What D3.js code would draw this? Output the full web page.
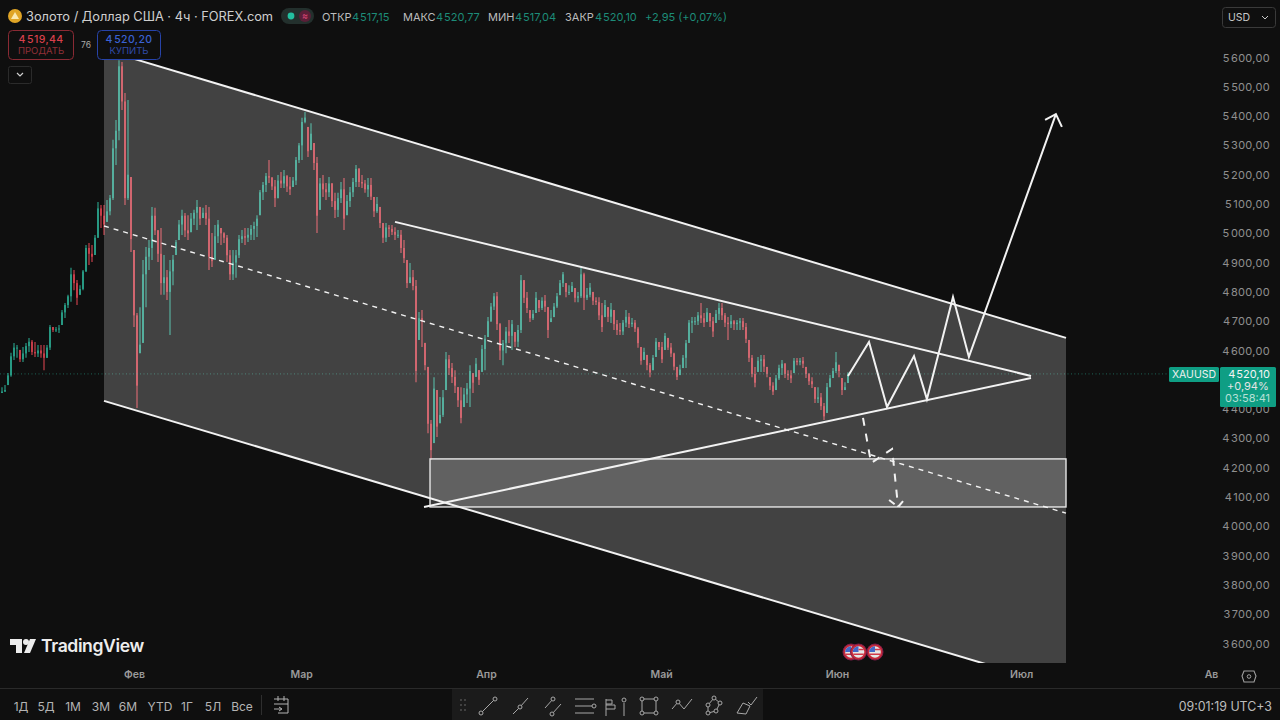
<!DOCTYPE html>
<html>
<head>
<meta charset="utf-8">
<script src="https://cdn.jsdelivr.net/npm/d3@7"></script>
<style>
  html, body { margin: 0; background: #0f0f0f; overflow: hidden; }
  svg { display: block; }
  text { font-family: Inter, "Noto Sans", sans-serif; }
</style>
</head>
<body>
<script>
// candles, one every few bars
const highs = [
  4475,4482,4523,4592,4626,4619,4602,4612,4626,4643,
  4636,4629,4619,4619,4619,4619,4687,4680,4680,4687,
  4738,4762,4790,4882,4875,4841,4823,4875,4960,4967,
  4960,4994,5107,5097,5097,5114,5131,5319,5387,5591,
  5585,5479,5455,5192,4943,4728,4748,4909,4953,4977,
  5090,5087,5011,5018,4926,4875,4909,4926,4977,5045,
  5080,5069,5062,5069,5080,5114,5090,5087,5097,5090,
  5001,5028,5045,5018,5004,4994,4943,4943,4943,4994,
  5011,5018,5018,5028,5039,5062,5148,5175,5206,5250,
  5192,5182,5199,5209,5216,5199,5192,5192,5260,5308,
  5394,5414,5363,5376,5308,5260,5189,5199,5172,5192,
  5172,5138,5138,5175,5189,5131,5158,5189,5233,5223,
  5199,5182,5189,5189,5124,5124,5090,5035,5035,5028,
  5028,5021,5011,5011,4977,4909,4899,4875,4841,4731,
  4738,4626,4544,4363,4509,4465,4441,4465,4595,4585,
  4557,4533,4475,4475,4472,4489,4550,4523,4574,4533,
  4619,4653,4714,4762,4796,4800,4694,4636,4680,4704,
  4704,4663,4687,4858,4841,4800,4738,4738,4800,4772,
  4782,4789,4748,4738,4762,4796,4841,4868,4830,4823,
  4834,4813,4800,4882,4865,4813,4830,4800,4782,4782,
  4762,4772,4748,4762,4738,4704,4694,4704,4738,4728,
  4711,4704,4680,4612,4609,4585,4557,4585,4643,4629,
  4629,4660,4643,4626,4592,4544,4551,4585,4636,4704,
  4714,4714,4731,4762,4728,4745,4728,4714,4738,4762,
  4762,4728,4714,4721,4704,4704,4711,4711,4694,4636,
  4585,4544,4578,4585,4585,4544,4509,4492,4516,4551,
  4568,4557,4533,4533,4574,4574,4574,4578,4544,4523,
  4509,4475,4475,4455,4421,4489,4516,4540,4595,4551,
  4506,4492,4526
];
const lows = [
  4455,4458,4482,4510,4568,4575,4561,4561,4575,4595,
  4585,4578,4578,4575,4533,4575,4602,4663,4663,4660,
  4687,4711,4745,4766,4806,4755,4790,4806,4868,4892,
  4902,4926,4984,5018,4994,5039,5062,5114,5233,5318,
  5421,5097,5114,4936,4680,4404,4591,4626,4748,4875,
  4909,4994,4902,4790,4790,4772,4653,4823,4926,4977,
  4994,4987,4977,5004,5028,5011,5028,5052,5028,4875,
  4885,4909,4967,4960,4967,4902,4841,4841,4848,4916,
  4967,4960,4970,4977,4977,4987,5062,5114,5141,5172,
  5148,5090,5120,5155,5155,5141,5131,5158,5165,5240,
  5250,5376,5260,5284,5216,5001,5080,5124,5114,5124,
  5090,5052,5056,5103,5011,5062,5090,5124,5158,5158,
  5155,5138,5124,5114,5056,5069,5018,4967,4970,4987,
  4994,4977,4984,4933,4899,4813,4830,4806,4492,4636,
  4612,4533,4318,4226,4284,4305,4352,4373,4465,4516,
  4489,4455,4407,4352,4407,4421,4407,4455,4510,4482,
  4527,4533,4646,4697,4738,4670,4568,4550,4591,4626,
  4602,4612,4612,4660,4762,4728,4697,4704,4728,4731,
  4738,4731,4643,4697,4714,4745,4789,4817,4782,4789,
  4800,4765,4765,4779,4738,4772,4782,4755,4755,4704,
  4663,4714,4697,4694,4670,4653,4653,4653,4680,4677,
  4680,4663,4609,4551,4568,4533,4509,4533,4578,4602,
  4557,4602,4602,4578,4533,4499,4516,4540,4540,4626,
  4660,4687,4687,4694,4680,4697,4680,4646,4694,4704,
  4704,4680,4636,4677,4670,4670,4670,4670,4626,4561,
  4509,4475,4527,4527,4527,4509,4465,4448,4465,4499,
  4516,4506,4499,4489,4523,4550,4550,4540,4506,4482,
  4472,4421,4421,4397,4363,4387,4475,4506,4523,4509,
  4448,4465,4489
];
const closes = [
  4460,4465,4515,4580,4610,4610,4570,4590,4615,4630,
  4595,4590,4600,4590,4575,4610,4680,4670,4672,4675,
  4730,4755,4785,4860,4830,4780,4810,4870,4950,4930,
  4920,4985,5085,5060,5030,5075,5120,5290,5350,5570,
  5450,5120,5200,4980,4720,4480,4620,4860,4920,4950,
  5060,5010,4930,4830,4850,4800,4870,4910,4970,5030,
  5060,5010,5000,5050,5070,5090,5050,5070,5050,4920,
  4905,4990,5030,5000,4985,4925,4860,4900,4925,4980,
  4990,4985,4995,5015,5025,5050,5140,5165,5195,5190,
  5160,5120,5180,5170,5195,5160,5150,5180,5250,5300,
  5380,5395,5280,5340,5240,5060,5170,5150,5140,5170,
  5110,5080,5120,5150,5050,5110,5140,5175,5220,5175,
  5170,5150,5165,5125,5075,5100,5035,4985,5020,5015,
  5005,4995,4995,4950,4915,4830,4850,4820,4530,4710,
  4700,4550,4350,4260,4470,4340,4380,4440,4570,4540,
  4510,4480,4430,4370,4450,4470,4530,4490,4555,4500,
  4605,4640,4700,4750,4785,4690,4600,4625,4665,4650,
  4690,4630,4670,4840,4780,4745,4710,4725,4780,4745,
  4770,4750,4670,4710,4750,4785,4830,4860,4800,4800,
  4820,4780,4785,4860,4780,4790,4815,4770,4765,4720,
  4680,4755,4715,4740,4690,4670,4665,4695,4715,4690,
  4695,4675,4625,4565,4595,4550,4525,4575,4630,4612,
  4570,4650,4610,4590,4545,4510,4535,4575,4625,4695,
  4700,4700,4720,4710,4695,4730,4700,4665,4725,4745,
  4720,4695,4690,4700,4690,4695,4700,4680,4640,4575,
  4520,4490,4565,4570,4545,4520,4480,4460,4505,4540,
  4555,4520,4515,4505,4565,4560,4565,4555,4520,4495,
  4485,4435,4440,4410,4375,4475,4505,4530,4560,4530,
  4465,4475,4520
];

// 4500 is hidden behind the price tag in the original
const priceTicks = d3.range(3600, 5700, 100).filter(p => p !== 4500);
const monthLabels = ["Фев", "Мар", "Апр", "Май", "Июн", "Июл", "Ав"];
const monthBars = [44, 99.7, 161.3, 219.7, 278.3, 339.7, 403];
const lastPrice = 4520.10;

// drawings, as [bar, price]
const channelTop = [[34, 5626], [354.67, 4643]];
const channelMid = [[34, 5025], [354.67, 4045]];
const channelBottom = [[34, 4428], [354.67, 3448]];
const triangleUpper = [[131, 5039], [343, 4513]];
const triangleLower = [[140.67, 4066], [343, 4506]];
const zoneBars = [142.67, 354.67];
const zonePrices = [4230, 4066];
const bullPath = [[282, 4513], [289, 4629], [295, 4407], [304, 4581], [308.3, 4434], [317, 4783], [322.3, 4578], [351.3, 5407]];
const bullHead = [[347.7, 5387], [351.3, 5407], [353.3, 5363]];
const bearPath = [[287, 4370], [289.7, 4216], [296.7, 4264], [298.7, 4066]];
const bearHead = [[295.7, 4090], [298.7, 4066], [301.3, 4097]];
const eventBars = [283, 285.5, 291];

const rangeButtons = ["1Д", "5Д", "1М", "3М", "6М", "YTD", "1Г", "5Л", "Все"];
const rangeX = [21, 46, 73, 101, 128, 160, 187, 213, 242];

const width = 1280, height = 720;
const svg = d3.select("body").append("svg").attr("width", width).attr("height", height);

const x = d3.scaleLinear().domain([0, 282]).range([2, 848]);
const y = d3.scaleLinear().domain([3600, 5600]).range([643.5, 57.5]);
const line = d3.line().x(d => x(d[0])).y(d => y(d[1]));
const ruFormat = v => d3.format(",.2f")(v).replace(",", "\u200a").replace(".", ",");

svg.append("rect").attr("width", width).attr("height", height).attr("fill", "#0f0f0f");

// the original is a soft screenshot, so the candles get a slight blur
svg.append("filter").attr("id", "soft").append("feGaussianBlur").attr("stdDeviation", 0.45);

svg.append("clipPath").attr("id", "pane").append("rect")
  .attr("x", 0).attr("y", 0).attr("width", 1168).attr("height", 663);
const pane = svg.append("g").attr("clip-path", "url(#pane)");

// candles
const upColor = "#2aa78f", downColor = "#d9434f";
const candles = closes.map((c, i) => ({
  i, c, o: i ? closes[i - 1] : lows[0], h: highs[i], l: lows[i]
}));
const candleG = pane.append("g").attr("filter", "url(#soft)").attr("opacity", 0.9);
candleG.selectAll("line").data(candles).enter().append("line")
  .attr("x1", d => x(d.i)).attr("x2", d => x(d.i))
  .attr("y1", d => y(d.h)).attr("y2", d => y(d.l))
  .attr("stroke", d => d.c >= d.o ? upColor : downColor)
  .attr("stroke-width", 1.2);
candleG.selectAll("rect").data(candles).enter().append("rect")
  .attr("x", d => x(d.i) - 1).attr("width", 2)
  .attr("y", d => y(Math.min(d.h, Math.max(d.o, d.c))))
  .attr("height", d => Math.max(1, y(Math.max(d.l, Math.min(d.o, d.c))) - y(Math.min(d.h, Math.max(d.o, d.c)))))
  .attr("fill", d => d.c >= d.o ? upColor : downColor);

// last price line
pane.append("line")
  .attr("x1", 0).attr("x2", 1168).attr("y1", y(lastPrice)).attr("y2", y(lastPrice))
  .attr("stroke", "#2aa78f").attr("stroke-opacity", 0.55).attr("stroke-dasharray", "1 2.5");

// channel fill
pane.append("path")
  .attr("d", line([channelTop[0], channelTop[1], channelBottom[1], channelBottom[0]]) + "Z")
  .attr("fill", "#fff").attr("fill-opacity", 0.215);

// zone
pane.append("rect")
  .attr("x", x(zoneBars[0])).attr("width", x(zoneBars[1]) - x(zoneBars[0]))
  .attr("y", y(zonePrices[0])).attr("height", y(zonePrices[1]) - y(zonePrices[0]))
  .attr("fill", "#fff").attr("fill-opacity", 0.17)
  .attr("stroke", "#e6e6e6").attr("stroke-width", 1.4);

const solid = (pts, w) => pane.append("path").attr("d", line(pts)).attr("fill", "none")
  .attr("stroke", "#f2f2f2").attr("stroke-width", w);

solid(channelTop, 2);
solid(channelBottom, 2);
solid(triangleUpper, 2);
solid(triangleLower, 2);
solid(bullPath, 2);
solid(bullHead, 2);
solid(channelMid, 1.4).attr("stroke-dasharray", "5 5");
solid(bearPath, 2).attr("stroke-dasharray", "8 8");
solid(bearHead, 2).attr("stroke-dasharray", "7 5");

// price axis
const yAxis = svg.append("g").attr("transform", "translate(1270,0)")
  .call(d3.axisRight(y).tickValues(priceTicks).tickSize(0).tickPadding(0).tickFormat(ruFormat));
yAxis.select(".domain").remove();
yAxis.selectAll("text").attr("text-anchor", "end").attr("fill", "#8f8f8f")
  .attr("font-size", 11).style("font-family", "Inter").attr("letter-spacing", 0.3);

// month axis
const xAxis = svg.append("g").attr("transform", "translate(0,671)")
  .call(d3.axisBottom(x).tickValues(monthBars).tickSize(0).tickPadding(0).tickFormat((d, i) => monthLabels[i]));
xAxis.select(".domain").remove();
xAxis.selectAll("text").attr("fill", "#9a9a9a").attr("font-size", 10.5).attr("font-weight", 600)
  .style("font-family", "Inter");

// event flags
const flags = svg.append("g").selectAll("g").data(eventBars).enter().append("g")
  .attr("transform", d => `translate(${x(d)},652)`);
flags.append("circle").attr("r", 8).attr("fill", "#c62a3a").attr("stroke", "#7d1d4a").attr("stroke-width", 1);
flags.append("circle").attr("r", 5.8).attr("fill", "#e6e6e6");
flags.append("path").attr("d", "M-5.8,0A5.8,5.8 0 0 1 0,-5.8V0Z").attr("fill", "#4268c8");
flags.append("path").attr("d", "M0,-2.4H5.3M-5.3,2.2H5.3").attr("stroke", "#d23a4a").attr("stroke-width", 1.5);

// watermark
const logo = svg.append("g").attr("fill", "#ededed");
logo.append("path").attr("d", "M10,639H22V653H16V645H10Z");
logo.append("circle").attr("cx", 26).attr("cy", 642).attr("r", 3);
logo.append("path").attr("d", "M30,639H36L30,653H24Z");
logo.append("text").attr("x", 41).attr("y", 651.5).attr("font-size", 17.6).attr("font-weight", 600)
  .attr("letter-spacing", -0.4).text("TradingView");

// header
const txt = (px, py, s, size, fill, anchor, weight) => svg.append("text")
  .attr("x", px).attr("y", py).attr("font-size", size).attr("fill", fill)
  .attr("text-anchor", anchor || "start").attr("font-weight", weight || 400).text(s);

svg.append("circle").attr("cx", 15).attr("cy", 16).attr("r", 7).attr("fill", "#e0a526");
svg.append("path").attr("d", "M15,12L19,19H11Z").attr("fill", "#fbe9b0");
txt(26, 21, "Золото / Доллар США · 4ч · FOREX.com", 12.8, "#cfcfcf");
svg.append("rect").attr("x", 281).attr("y", 8).attr("width", 33).attr("height", 16).attr("rx", 8).attr("fill", "#23302d");
svg.append("circle").attr("cx", 291).attr("cy", 16).attr("r", 3.4).attr("fill", "#23c0a0");
svg.append("circle").attr("cx", 305).attr("cy", 16).attr("r", 6).attr("fill", "#5a1f38");
txt(305, 19, "≈", 9, "#e0487a", "middle");

const ohlcNames = ["ОТКР", "МАКС", "МИН", "ЗАКР"];
const ohlcValues = ["4\u200a517,15", "4\u200a520,77", "4\u200a517,04", "4\u200a520,10"];
const ohlcNameX = [322, 403, 488, 565];
const ohlcValueX = [352, 436, 515, 595];
ohlcNames.forEach((n, i) => {
  txt(ohlcNameX[i], 20.5, n, 11, "#bdbdbd");
  txt(ohlcValueX[i], 20.5, ohlcValues[i], 11, "#1d8c78");
});
txt(645, 20.5, "+2,95 (+0,07%)", 11, "#1d8c78");

svg.append("rect").attr("x", 8.5).attr("y", 30.5).attr("width", 65).attr("height", 29).attr("rx", 4)
  .attr("fill", "#0f0f0f").attr("stroke", "#8a2a34");
txt(41, 43, "4\u200a519,44", 10.5, "#d8404c", "middle", 500).attr("letter-spacing", 0.4);
txt(41, 54, "ПРОДАТЬ", 9.5, "#8f2f38", "middle");
txt(86, 48, "76", 8.5, "#a8a8a8", "middle");
svg.append("rect").attr("x", 97.5).attr("y", 30.5).attr("width", 63).attr("height", 29).attr("rx", 4)
  .attr("fill", "#0f0f0f").attr("stroke", "#2743a8");
txt(129, 43, "4\u200a520,20", 10.5, "#3a62d4", "middle", 500).attr("letter-spacing", 0.4);
txt(129, 54, "КУПИТЬ", 9.5, "#2f4ba8", "middle");
svg.append("rect").attr("x", 8.5).attr("y", 66.5).attr("width", 23).attr("height", 17).attr("rx", 2)
  .attr("fill", "none").attr("stroke", "#2b2b2b");
svg.append("path").attr("d", "M17,73L20,76L23,73").attr("fill", "none").attr("stroke", "#d0d0d0").attr("stroke-width", 1.2);

svg.append("rect").attr("x", 1222.5).attr("y", 7.5).attr("width", 53).attr("height", 20).attr("rx", 3)
  .attr("fill", "none").attr("stroke", "#3a3a3a");
txt(1228, 21, "USD", 10.5, "#c8c8c8");
svg.append("path").attr("d", "M1262,16L1265,19L1268,16").attr("fill", "none").attr("stroke", "#c8c8c8");

// price tags
const tagColor = "#0f9e84";
svg.append("rect").attr("x", 1169).attr("y", 367).attr("width", 50).attr("height", 15).attr("rx", 1.5).attr("fill", tagColor);
txt(1194, 378, "XAUUSD", 10.5, "#f0f0f0", "middle");
svg.append("rect").attr("x", 1220).attr("y", 367).attr("width", 56).attr("height", 40).attr("rx", 1.5).attr("fill", tagColor);
txt(1270, 378, "4\u200a520,10", 11, "#f4f4f4", "end");
txt(1227, 390, "+0,94%", 11, "#e4e4e4");
txt(1270, 402, "03:58:41", 11, "#b6e0d6", "end");

// gear
svg.append("path").attr("d", "M1244,671H1254L1256,676L1254,682H1244L1242,676Z")
  .attr("fill", "none").attr("stroke", "#a0a0a0").attr("stroke-width", 1.1);
svg.append("circle").attr("cx", 1249).attr("cy", 676.5).attr("r", 1.8).attr("fill", "none").attr("stroke", "#a0a0a0");

// bottom bar
svg.append("line").attr("x1", 0).attr("x2", 1280).attr("y1", 688.5).attr("y2", 688.5).attr("stroke", "#2a2a2a");
rangeButtons.forEach((b, i) => txt(rangeX[i], 711, b, 12, "#b4b4b4", "middle"));
svg.append("line").attr("x1", 261.5).attr("x2", 261.5).attr("y1", 695).attr("y2", 715).attr("stroke", "#2e2e2e");
svg.append("path").attr("d", "M274,699H288V713H278M274,704H288M278,696V701M284,696V701M274,709H281M279,707L282,709L279,711")
  .attr("fill", "none").attr("stroke", "#b4b4b4");
txt(1272, 711, "09:01:19 UTC+3", 12.4, "#bdbdbd", "end");

// drawing toolbar
svg.append("rect").attr("x", 452).attr("y", 689).attr("width", 311).attr("height", 31).attr("fill", "#1b1b1b");
const tool = svg.append("g").attr("fill", "none").attr("stroke", "#a8a8a8").attr("stroke-width", 1);
d3.range(2).forEach(a => d3.range(3).forEach(b => tool.append("circle")
  .attr("cx", 461 + a * 4).attr("cy", 700 + b * 5).attr("r", 0.6).attr("stroke", "#555")));
const toolPaths = [
  "M481,713L495,699",
  "M513,714L520,707L528,698",
  "M545,708L553,699M552,714L561,704",
  "M575,699H594M575,706H594M575,713H594",
  "M606,699V716M606,700H612V704H606M606,705H615V709H606",
  "M624,703V716",
  "M642,699H656V713H642Z",
  "M672,709L678,702L684,709L692,699",
  "M708,705L714,698L720,703L716,711L708,713Z",
  "M737,713L743,703L750,706L746,714Z M748,702L751,705L757,697"
];
toolPaths.forEach(d => tool.append("path").attr("d", d));
const toolDots = [[481, 713], [495, 699], [520, 707], [553, 699], [552, 714], [594, 706], [624, 700],
  [642, 699], [656, 699], [642, 713], [656, 713], [678, 702], [708, 705], [714, 698], [720, 703], [716, 711], [708, 713]];
toolDots.forEach(d => tool.append("circle").attr("cx", d[0]).attr("cy", d[1]).attr("r", 2).attr("fill", "#1b1b1b"));
</script>
</body>
</html>
